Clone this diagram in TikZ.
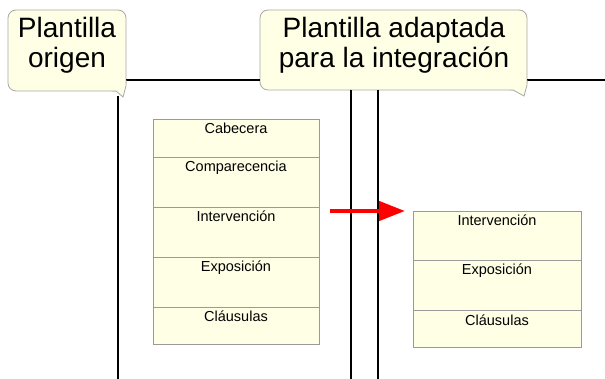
\documentclass[tikz,border=0pt]{standalone}
\usepackage{fontspec}
\setmainfont{Liberation Sans}
\usetikzlibrary{arrows.meta}
\definecolor{paper}{HTML}{FFFFE6}
\definecolor{cellline}{HTML}{9A9A9A}
\definecolor{callline}{HTML}{A8A8A8}
\definecolor{arrowred}{HTML}{FF0000}
\tikzset{
  callout/.style={draw=callline,fill=paper,rounded corners=8pt,inner sep=0pt,line width=0.8pt},
  calltext/.style={font=\fontsize{28}{30}\selectfont,align=center,inner sep=0pt},
  cell/.style={draw=cellline,fill=paper,inner sep=0pt,outer sep=0pt,line width=0.8pt,anchor=north west,
    text height=15pt,font=\fontsize{14.5}{16}\selectfont},
  rowmid/.style={cell,text depth=35pt},
  rowend/.style={cell,text depth=22pt},
  rule/.style={line width=1.4pt,black},
  bigarrow/.style={arrowred,line width=4.5pt,-{Triangle[length=26pt,width=19pt]}}
}
\begin{document}
\begin{tikzpicture}[x=1pt,y=-1pt]
\useasboundingbox (0,0) rectangle (605,379);
\coordinate (rend) at (605,80);
\coordinate (bl) at (118,379);
\coordinate (bm) at (351,379);
\coordinate (br) at (378,379);
% callouts
\node[callout,minimum width=118pt,minimum height=81pt] (c1) at (67,50.5) {};
\node[callout,minimum width=267pt,minimum height=80pt] (c2) at (393.5,50) {};
\draw[rule] (c1.east |- 0,80) -- (c2.west |- 0,80);
\draw[rule] (c2.east |- 0,80) -- (rend);
% tails
\fill[paper] (126,80) -- (126,86) -- (123,97) -- (116,91) -- (112,91) -- (112,80) -- cycle;
\draw[callline,line width=0.8pt] (126,80) -- (126,86) -- (123,97) -- (116,91) -- (112,91);
\fill[paper] (527,80) -- (527,85) -- (524,96) -- (513,90) -- (510,90) -- (510,80) -- cycle;
\draw[callline,line width=0.8pt] (527,80) -- (527,85) -- (524,96) -- (513,90) -- (510,90);
\node[calltext] (t1) at (67,45) {Plantilla\\origen};
\node[calltext] (t2) at (394,45) {Plantilla adaptada\\para la integración};
% vertical rules
\coordinate (tl) at (118,96);
\draw[rule] (tl) -- (bl);
\draw[rule] (c2.south -| bm) -- (bm);
\draw[rule] (c2.south -| br) -- (br);
% left stack
\node[cell,minimum width=166pt,text depth=23pt] (l1) at (153,119) {Cabecera};
\node[rowmid,minimum width=166pt] (l2) at (l1.south west) {Comparecencia};
\node[rowmid,minimum width=166pt] (l3) at (l2.south west) {Intervención};
\node[rowmid,minimum width=166pt] (l4) at (l3.south west) {Exposición};
\node[rowend,minimum width=166pt] (l5) at (l4.south west) {Cláusulas};
% right stack
\node[cell,minimum width=168pt,text depth=34pt] (r1) at (413,211) {Intervención};
\node[rowmid,minimum width=168pt] (r2) at (r1.south west) {Exposición};
\node[rowend,minimum width=168pt] (r3) at (r2.south west) {Cláusulas};
% arrow
\draw[bigarrow] ([xshift=11pt]l1.east |- r1.north west) -- ([xshift=-8pt]r1.north west);
\end{tikzpicture}
\end{document}
